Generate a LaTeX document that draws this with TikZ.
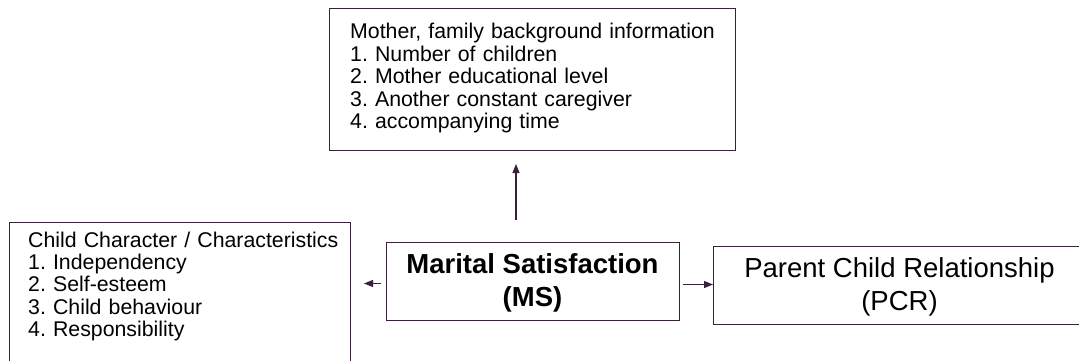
\documentclass[tikz,border=0pt]{standalone}
\usepackage{fontspec}
\setmainfont{Liberation Sans}
\usetikzlibrary{arrows.meta}
\definecolor{edge}{HTML}{3A2038}
\frenchspacing
\tikzset{
  boxshape/.style={draw=edge, line width=1pt, rectangle, inner sep=0pt, anchor=north west},
  listtext/.style={anchor=base west, inner sep=0pt, align=left, text width=400pt,
    font=\fontsize{21.3}{22.4}\selectfont},
  bigtext/.style={inner sep=0pt, align=center, font=\fontsize{27.5}{32.5}\selectfont},
  arr/.style={draw=edge, line width=1.1pt, -{Triangle[length=9pt,width=7pt]}}
}
\begin{document}
\begin{tikzpicture}[x=1pt,y=-1pt]
\useasboundingbox (0,0) rectangle (1079,361);
\fill[white] (0,0) rectangle (1079,361);
\clip (0,0) rectangle (1079,361);
% boxes
\node[boxshape, minimum width=406pt, minimum height=142pt] (fam) at (329,8) {};
\node[boxshape, minimum width=341pt, minimum height=170pt] (child) at (9,222) {};
\node[boxshape, minimum width=293pt, minimum height=78pt] (ms) at (386,242) {};
\node[boxshape, minimum width=380pt, minimum height=78pt] (pcr) at (713,246) {};
% texts
\node[listtext] (famtext) at (350,39) {Mother, family background information\\
1. Number of children\\
2. Mother educational level\\
3. Another constant caregiver\\
4. accompanying time};
\node[listtext] (childtext) at (28,247) {Child Character / Characteristics\\
1. Independency\\
2. Self-esteem\\
3. Child behaviour\\
4. Responsibility};
\node[bigtext, font=\bfseries\fontsize{27.5}{32.5}\selectfont] (mstext) at (532.5,283) {Marital Satisfaction\\(MS)};
\node[bigtext] (pcrtext) at (899.5,287) {Parent Child Relationship\\(PCR)};
% connectors
\coordinate (upstart) at ([xshift=-17pt]ms.north);
\coordinate (leftstart) at ([yshift=-2pt]ms.west);
\coordinate (rightstart) at ([yshift=-3pt]ms.east);
\draw[arr, shorten <=22pt, shorten >=13pt] (upstart) -- (fam.south -| upstart);
\draw[arr, shorten <=5pt, shorten >=13pt] (leftstart) -- (child.east |- leftstart);
\draw[arr, shorten <=3pt] (rightstart) -- (pcr.west |- rightstart);
\end{tikzpicture}
\end{document}
